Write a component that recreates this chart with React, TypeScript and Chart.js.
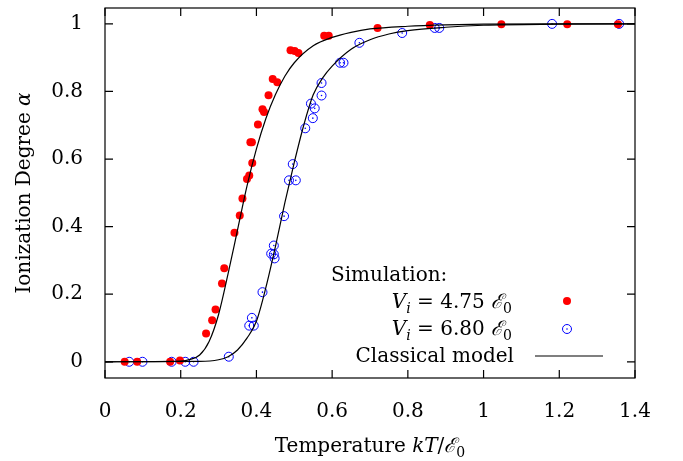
import React, { useEffect, useRef } from 'react';
import Chart from 'chart.js/auto';

const redX = [0.052, 0.085, 0.172, 0.198, 0.267, 0.283, 0.292, 0.309, 0.315, 0.342, 0.356, 0.363, 0.375, 0.381, 0.389, 0.384, 0.388, 0.404, 0.416, 0.42, 0.432, 0.443, 0.455, 0.49, 0.501, 0.511, 0.579, 0.591, 0.72, 0.858, 1.047, 1.221, 1.355];
const redY = [0, 0, 0, 0.004, 0.084, 0.123, 0.155, 0.232, 0.277, 0.382, 0.433, 0.483, 0.541, 0.551, 0.588, 0.65, 0.65, 0.702, 0.747, 0.739, 0.789, 0.837, 0.827, 0.922, 0.92, 0.914, 0.965, 0.965, 0.988, 0.997, 0.999, 0.999, 0.999];
const blueX = [0.064, 0.099, 0.176, 0.212, 0.234, 0.327, 0.381, 0.393, 0.388, 0.416, 0.439, 0.446, 0.448, 0.446, 0.473, 0.486, 0.504, 0.496, 0.529, 0.549, 0.544, 0.554, 0.572, 0.572, 0.621, 0.63, 0.672, 0.785, 0.871, 0.883, 1.181, 1.358];
const blueY = [0, 0, 0, 0, 0, 0.015, 0.107, 0.107, 0.13, 0.206, 0.32, 0.318, 0.306, 0.344, 0.431, 0.537, 0.537, 0.585, 0.691, 0.721, 0.764, 0.75, 0.788, 0.825, 0.885, 0.885, 0.944, 0.973, 0.988, 0.988, 1.0, 1.0];
const model1X = [0, 0.2, 0.225, 0.25, 0.275, 0.3, 0.325, 0.35, 0.375, 0.4, 0.425, 0.45, 0.475, 0.5, 0.55, 0.6, 0.65, 0.7, 0.8, 0.9, 1.0, 1.2, 1.4];
const model1Y = [0, 0.002, 0.007, 0.02, 0.06, 0.14, 0.26, 0.39, 0.52, 0.63, 0.72, 0.79, 0.845, 0.885, 0.935, 0.96, 0.975, 0.985, 0.993, 0.997, 0.999, 1, 1];
const model2X = [0, 0.25, 0.3, 0.325, 0.35, 0.375, 0.4, 0.425, 0.45, 0.475, 0.5, 0.525, 0.55, 0.575, 0.6, 0.65, 0.7, 0.75, 0.8, 0.9, 1.0, 1.2, 1.4];
const model2Y = [0, 0.001, 0.006, 0.015, 0.035, 0.07, 0.12, 0.22, 0.34, 0.47, 0.59, 0.7, 0.79, 0.84, 0.875, 0.925, 0.953, 0.97, 0.98, 0.99, 0.996, 0.999, 1];
const xTicks = [0, 0.2, 0.4, 0.6, 0.8, 1, 1.2, 1.4];
const yTicks = [0, 0.2, 0.4, 0.6, 0.8, 1];

const SERIF = '"DejaVu Serif", "Liberation Serif", serif';
const pts = (xs: number[], ys: number[]) => xs.map((x, i) => ({ x, y: ys[i] }));

type Seg = [string, string, number?];
function drawSegs(ctx: CanvasRenderingContext2D, segs: Seg[], x: number, y: number) {
  let cx = x;
  for (const [t, f, dy] of segs) {
    ctx.font = f;
    ctx.fillText(t, cx, y + (dy || 0));
    cx += ctx.measureText(t).width;
  }
  return cx;
}
function segWidth(ctx: CanvasRenderingContext2D, segs: Seg[]) {
  let w = 0;
  for (const [t, f] of segs) { ctx.font = f; w += ctx.measureText(t).width; }
  return w;
}

const R = `20px ${SERIF}`;
const I = `italic 20px ${SERIF}`;
const SUB = `14px ${SERIF}`;
const ISUB = `italic 14px ${SERIF}`;

const deco = {
  id: 'deco',
  afterDraw(chart: any) {
    const { ctx, chartArea: a, scales } = chart;
    ctx.save();
    ctx.strokeStyle = '#000';
    ctx.lineWidth = 1.2;
    ctx.strokeRect(a.left, a.top, a.right - a.left, a.bottom - a.top);
    ctx.beginPath();
    for (const v of xTicks) {
      const px = scales.x.getPixelForValue(v);
      ctx.moveTo(px, a.bottom); ctx.lineTo(px, a.bottom - 8);
      ctx.moveTo(px, a.top); ctx.lineTo(px, a.top + 8);
    }
    for (const v of yTicks) {
      const py = scales.y.getPixelForValue(v);
      ctx.moveTo(a.left, py); ctx.lineTo(a.left + 8, py);
      ctx.moveTo(a.right, py); ctx.lineTo(a.right - 8, py);
    }
    ctx.stroke();

    ctx.fillStyle = '#000';
    ctx.textBaseline = 'alphabetic';
    ctx.textAlign = 'left';
    const xt: Seg[] = [['Temperature ', R], ['kT', I], ['/', R], ['ℰ', I], ['0', SUB, 5]];
    drawSegs(ctx, xt, (a.left + a.right) / 2 - segWidth(ctx, xt) / 2, 452);
    ctx.save();
    ctx.translate(30, (a.top + a.bottom) / 2);
    ctx.rotate(-Math.PI / 2);
    const yt: Seg[] = [['Ionization Degree ', R], ['α', I]];
    drawSegs(ctx, yt, -segWidth(ctx, yt) / 2, 0);
    ctx.restore();

    drawSegs(ctx, [['Simulation:', R]], 331, 281);
    const l1: Seg[] = [['V', I], ['i', ISUB, 5], [' = 4.75 ', R], ['ℰ', I], ['0', SUB, 5]];
    const l2: Seg[] = [['V', I], ['i', ISUB, 5], [' = 6.80 ', R], ['ℰ', I], ['0', SUB, 5]];
    const l3: Seg[] = [['Classical model', R]];
    drawSegs(ctx, l1, 512 - segWidth(ctx, l1), 308);
    drawSegs(ctx, l2, 512 - segWidth(ctx, l2), 335);
    drawSegs(ctx, l3, 514 - segWidth(ctx, l3), 362);
    ctx.fillStyle = '#ff0000';
    ctx.beginPath(); ctx.arc(567, 301, 4, 0, Math.PI * 2); ctx.fill();
    ctx.strokeStyle = '#0000ff';
    ctx.lineWidth = 1;
    ctx.beginPath(); ctx.arc(567, 329, 4.5, 0, Math.PI * 2); ctx.stroke();
    ctx.fillStyle = '#0000ff';
    ctx.beginPath(); ctx.arc(567, 329, 0.8, 0, Math.PI * 2); ctx.fill();
    ctx.strokeStyle = '#000';
    ctx.lineWidth = 1.2;
    ctx.beginPath(); ctx.moveTo(535, 356); ctx.lineTo(603, 356); ctx.stroke();
    ctx.restore();
  },
};

export default function App() {
  const canvasRef = useRef<HTMLCanvasElement>(null);

  useEffect(() => {
    if (!canvasRef.current) return;
    const chart = new Chart(canvasRef.current, {
      type: 'scatter',
      data: {
        datasets: [
          { type: 'line', data: pts(model1X, model1Y), borderColor: '#000', borderWidth: 1.2, pointRadius: 0, cubicInterpolationMode: 'monotone', fill: false },
          { type: 'line', data: pts(model2X, model2Y), borderColor: '#000', borderWidth: 1.2, pointRadius: 0, cubicInterpolationMode: 'monotone', fill: false },
          { data: pts(redX, redY), backgroundColor: '#ff0000', borderColor: '#ff0000', pointRadius: 4, borderWidth: 0 },
          { data: pts(blueX, blueY), backgroundColor: 'rgba(0,0,0,0)', borderColor: '#0000ff', pointRadius: 4.5, borderWidth: 1 },
          { data: pts(blueX, blueY), backgroundColor: '#0000ff', borderColor: '#0000ff', pointRadius: 0.8, borderWidth: 0 },
        ] as any,
      },
      options: {
        animation: false,
        responsive: false,
        layout: { padding: { top: 8, right: 48, left: 0, bottom: 0 } },
        plugins: { legend: { display: false }, tooltip: { enabled: false } },
        scales: {
          x: {
            type: 'linear', min: 0, max: 1.4,
            afterFit: (s: any) => { s.height = 83; s.paddingLeft = 0; s.paddingRight = 0; },
            afterBuildTicks: (s: any) => { s.ticks = xTicks.map((v) => ({ value: v })); },
            grid: { display: false },
            border: { display: false },
            ticks: { color: '#000', padding: 14, font: { family: SERIF, size: 20 }, callback: (v: any) => String(v) },
          },
          y: {
            type: 'linear', min: -0.048, max: 1.047,
            afterFit: (s: any) => { s.width = 105; s.paddingTop = 0; s.paddingBottom = 0; },
            afterBuildTicks: (s: any) => { s.ticks = yTicks.map((v) => ({ value: v })); },
            grid: { display: false },
            border: { display: false },
            ticks: { color: '#000', padding: 14, font: { family: SERIF, size: 20 }, callback: (v: any) => String(v) },
          },
        },
      },
      plugins: [deco],
    });
    return () => chart.destroy();
  }, []);

  return (
    <div style={{ position: 'fixed', left: 0, top: 0, width: 683, height: 461, background: '#fff' }}>
      <canvas ref={canvasRef} width={683} height={461} />
    </div>
  );
}
